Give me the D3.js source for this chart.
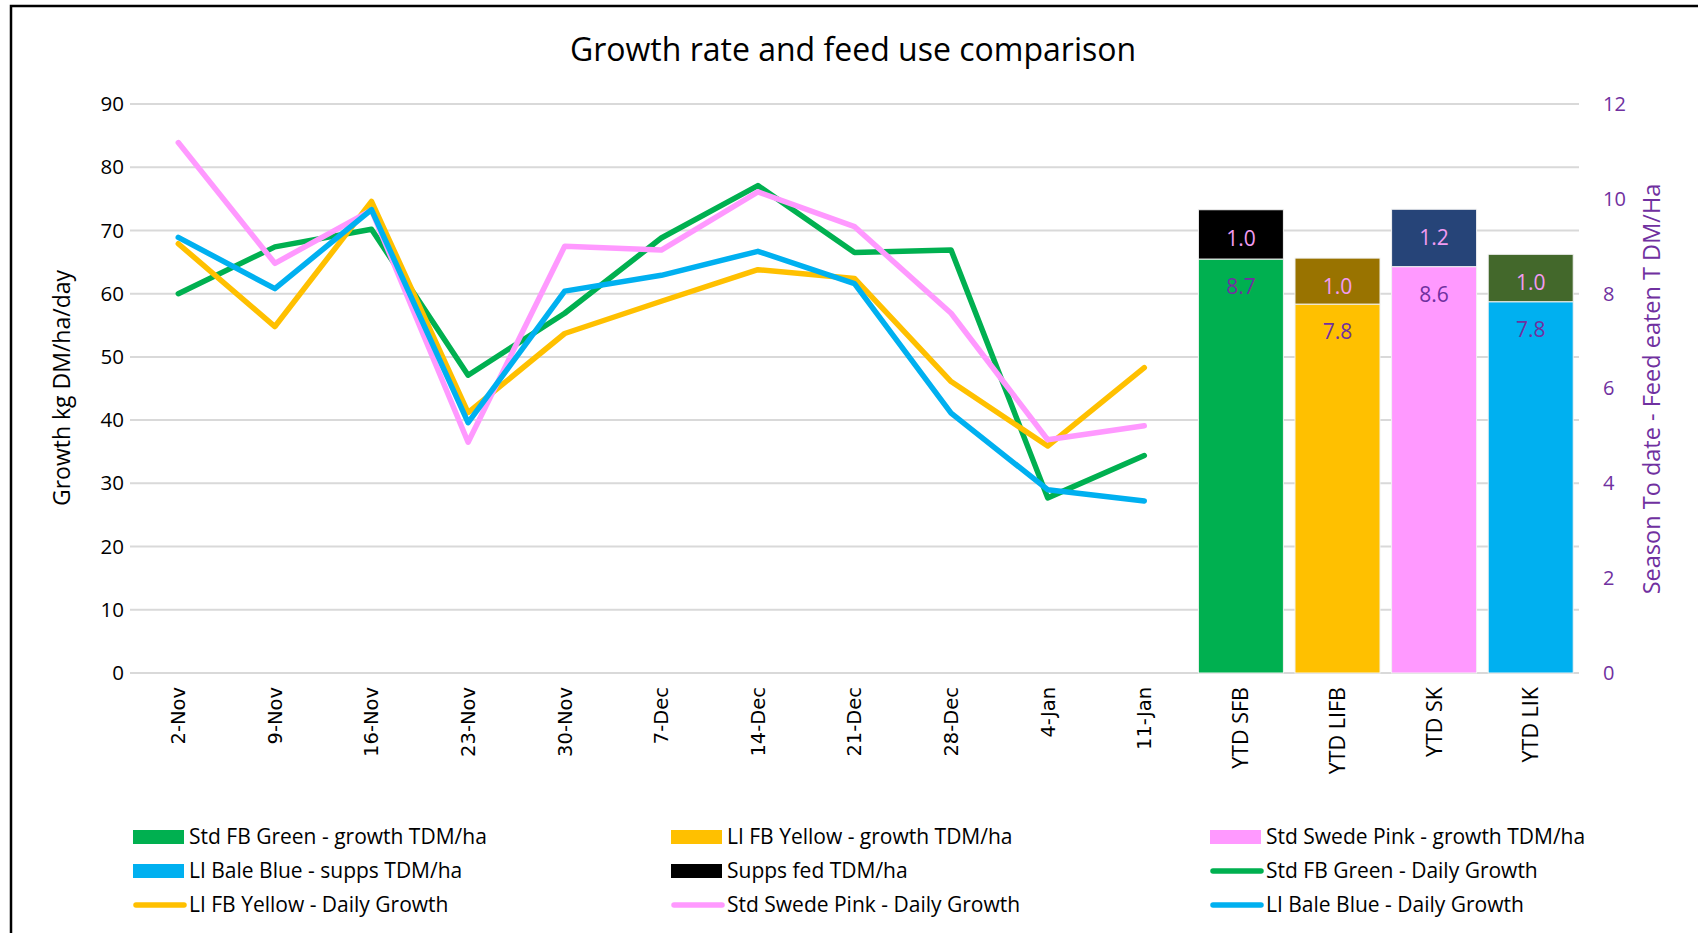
<!DOCTYPE html>
<html>
<head>
<meta charset="utf-8">
<script src="https://cdn.jsdelivr.net/npm/d3@7"></script>
<style>
  body { margin: 0; background: #fff; }
  svg { display: block; }
  .axis text { font-family: "Open Sans", sans-serif; }
</style>
</head>
<body>
<script>
// categories on the x axis
var dates = ["2-Nov", "9-Nov", "16-Nov", "23-Nov", "30-Nov", "7-Dec", "14-Dec", "21-Dec", "28-Dec", "4-Jan", "11-Jan"];
var ytdCategories = ["YTD SFB", "YTD LIFB", "YTD SK", "YTD LIK"];

// daily growth, kg DM/ha/day
var stdFbGreen = [60, 67.4, 70.2, 47.1, 56.9, 68.8, 77.1, 66.5, 66.9, 27.7, 34.4];
var liFbYellow = [67.9, 54.8, 74.6, 41.2, 53.7, 58.8, 63.8, 62.4, 46.1, 35.9, 48.3];
var stdSwedePink = [83.9, 64.8, 73.2, 36.5, 67.5, 66.9, 76.1, 70.6, 56.9, 36.9, 39.1];
var liBaleBlue = [68.9, 60.8, 73.3, 39.6, 60.4, 62.9, 66.7, 61.6, 41.1, 29.0, 27.2];

// season to date, T DM/ha
var ytdGrowth = [8.73, 7.78, 8.57, 7.83];
var ytdSupps = [1.04, 0.97, 1.21, 1.0];

var leftTicks = [0, 10, 20, 30, 40, 50, 60, 70, 80, 90];
var rightTicks = [0, 2, 4, 6, 8, 10, 12];

var W = 1698, H = 933;
var margin = { top: 104, left: 130, right: 119, bottom: 260 };
var plotW = W - margin.left - margin.right,
  plotH = H - margin.top - margin.bottom;

var purple = "#7030A0";

var svg = d3.select("body").append("svg")
  .attr("width", W)
  .attr("height", H);

// chart frame (cut at right / bottom like the screenshot)
svg.append("rect")
  .attr("x", 11).attr("y", 6)
  .attr("width", W + 20).attr("height", H + 20)
  .attr("fill", "none")
  .attr("stroke", "#000")
  .attr("stroke-width", 2.5);

svg.append("text")
  .attr("x", 853).attr("y", 61)
  .attr("text-anchor", "middle")
  .style("font-family", "'Open Sans', sans-serif")
  .style("font-size", "32px")
  .attr("fill", "#000")
  .text("Growth rate and feed use comparison");

var g = svg.append("g")
  .attr("transform", "translate(" + margin.left + "," + margin.top + ")");

var x = d3.scaleBand()
  .domain(dates.concat(ytdCategories))
  .range([0, plotW])
  .paddingInner(0.12)
  .paddingOuter(0.06);

var y = d3.scaleLinear().domain([0, 90]).range([plotH, 0]);
var y2 = d3.scaleLinear().domain([0, 12]).range([plotH, 0]);

// gridlines
g.append("g")
  .selectAll("line")
  .data(leftTicks)
  .enter().append("line")
  .attr("x1", 0).attr("x2", plotW)
  .attr("y1", function (d) { return y(d); })
  .attr("y2", function (d) { return y(d); })
  .attr("stroke", "#d9d9d9")
  .attr("stroke-width", 2);

// left axis
var yAxis = g.append("g")
  .attr("class", "axis")
  .call(d3.axisLeft(y).tickValues(leftTicks).tickSize(0).tickPadding(6));
yAxis.select(".domain").remove();
yAxis.selectAll("text").style("font-size", "20.5px").attr("fill", "#000");

// right axis
var y2Axis = g.append("g")
  .attr("class", "axis")
  .attr("transform", "translate(" + (plotW + 24) + ",0)")
  .call(d3.axisRight(y2).tickValues(rightTicks).tickSize(0).tickPadding(0));
y2Axis.select(".domain").remove();
y2Axis.selectAll("text").style("font-size", "20px").attr("fill", purple);

// x axis labels, rotated
var xAxis = g.append("g")
  .attr("class", "axis")
  .attr("transform", "translate(0," + plotH + ")")
  .call(d3.axisBottom(x).tickSize(0));
xAxis.select(".domain").remove();
xAxis.selectAll("text")
  .attr("transform", "rotate(-90)")
  .attr("x", -14).attr("y", 0).attr("dy", "0.35em")
  .attr("text-anchor", "end")
  .attr("fill", "#000")
  .style("font-family", function (d) { return ytdCategories.indexOf(d) >= 0 ? "'Open Sans', sans-serif" : "'DejaVu Sans', sans-serif"; })
  .style("font-size", function (d) { return ytdCategories.indexOf(d) >= 0 ? "21.5px" : "19.5px"; });

// axis titles
svg.append("text")
  .attr("transform", "translate(70," + (margin.top + 284) + ") rotate(-90)")
  .attr("text-anchor", "middle")
  .style("font-family", "'Open Sans', sans-serif")
  .style("font-size", "23px")
  .attr("fill", "#000")
  .text("Growth kg DM/ha/day");

svg.append("text")
  .attr("transform", "translate(1660," + (margin.top + 285) + ") rotate(-90)")
  .attr("text-anchor", "middle")
  .style("font-family", "'Open Sans', sans-serif")
  .style("font-size", "23.5px")
  .attr("fill", purple)
  .text("Season To date - Feed eaten T DM/Ha");

// stacked YTD bars
var growthColors = ["#00B050", "#FFC000", "#FF99FF", "#00B0F0"];
var suppColors = ["#000000", "#997300", "#264478", "#43682B"];

var bars = ytdCategories.map(function (c, i) {
  return { cat: c, growth: ytdGrowth[i], supps: ytdSupps[i], gc: growthColors[i], sc: suppColors[i] };
});

var bar = g.selectAll(".ytd")
  .data(bars)
  .enter().append("g")
  .attr("class", "ytd");

bar.append("rect")
  .attr("x", function (d) { return x(d.cat); })
  .attr("width", x.bandwidth())
  .attr("y", function (d) { return y2(d.growth); })
  .attr("height", function (d) { return y2(0) - y2(d.growth); })
  .attr("fill", function (d) { return d.gc; })
  .attr("stroke", "#f2f2f2").attr("stroke-width", 1);

bar.append("rect")
  .attr("x", function (d) { return x(d.cat); })
  .attr("width", x.bandwidth())
  .attr("y", function (d) { return y2(d.growth + d.supps); })
  .attr("height", function (d) { return y2(d.growth) - y2(d.growth + d.supps); })
  .attr("fill", function (d) { return d.sc; })
  .attr("stroke", "#f2f2f2").attr("stroke-width", 1);

bar.append("text")
  .attr("x", function (d) { return x(d.cat) + x.bandwidth() / 2; })
  .attr("y", function (d) { return y2(d.growth) + 35; })
  .attr("text-anchor", "middle")
  .style("font-family", "'Open Sans', sans-serif")
  .style("font-size", "21px")
  .attr("fill", purple)
  .text(function (d) { return d.growth.toFixed(1); });

bar.append("text")
  .attr("x", function (d) { return x(d.cat) + x.bandwidth() / 2; })
  .attr("y", function (d) { return y2(d.growth + d.supps) + 36; })
  .attr("text-anchor", "middle")
  .style("font-family", "'Open Sans', sans-serif")
  .style("font-size", "21px")
  .attr("fill", "#F29BF2")
  .text(function (d) { return d.supps.toFixed(1); });

// growth lines
var lines = [
  { name: "Std FB Green - Daily Growth", values: stdFbGreen, color: "#00B050" },
  { name: "LI FB Yellow - Daily Growth", values: liFbYellow, color: "#FFC000" },
  { name: "Std Swede Pink - Daily Growth", values: stdSwedePink, color: "#FF99FF" },
  { name: "LI Bale Blue - Daily Growth", values: liBaleBlue, color: "#00B0F0" }
];

var line = d3.line()
  .x(function (d, i) { return x(dates[i]) + x.bandwidth() / 2; })
  .y(function (d) { return y(d); });

g.selectAll(".series")
  .data(lines)
  .enter().append("path")
  .attr("class", "series")
  .attr("d", function (d) { return line(d.values); })
  .attr("fill", "none")
  .attr("stroke", function (d) { return d.color; })
  .attr("stroke-width", 5.5)
  .attr("stroke-linejoin", "round")
  .attr("stroke-linecap", "round");

// legend
var legendItems = [
  { name: "Std FB Green - growth TDM/ha", color: "#00B050", type: "rect" },
  { name: "LI FB Yellow - growth TDM/ha", color: "#FFC000", type: "rect" },
  { name: "Std Swede Pink - growth TDM/ha", color: "#FF99FF", type: "rect" },
  { name: "LI Bale Blue - supps TDM/ha", color: "#00B0F0", type: "rect" },
  { name: "Supps fed TDM/ha", color: "#000000", type: "rect" },
  { name: lines[0].name, color: lines[0].color, type: "line" },
  { name: lines[1].name, color: lines[1].color, type: "line" },
  { name: lines[2].name, color: lines[2].color, type: "line" },
  { name: lines[3].name, color: lines[3].color, type: "line" }
];
var colX = [133, 671, 1210], rowY = [837, 871, 905];

var item = svg.selectAll(".legend")
  .data(legendItems)
  .enter().append("g")
  .attr("class", "legend")
  .attr("transform", function (d, i) { return "translate(" + colX[i % 3] + "," + rowY[Math.floor(i / 3)] + ")"; });

item.filter(function (d) { return d.type === "rect"; })
  .append("rect")
  .attr("x", 0).attr("y", -7)
  .attr("width", 51).attr("height", 14)
  .attr("fill", function (d) { return d.color; });

item.filter(function (d) { return d.type === "line"; })
  .append("line")
  .attr("x1", 3).attr("x2", 51)
  .attr("y1", 0).attr("y2", 0)
  .attr("stroke", function (d) { return d.color; })
  .attr("stroke-width", 5.5)
  .attr("stroke-linecap", "round");

item.append("text")
  .attr("x", 56).attr("y", 0).attr("dy", "0.35em")
  .style("font-family", "'Open Sans', sans-serif")
  .style("font-size", "21px")
  .attr("fill", "#000")
  .text(function (d) { return d.name; });
</script>
</body>
</html>
